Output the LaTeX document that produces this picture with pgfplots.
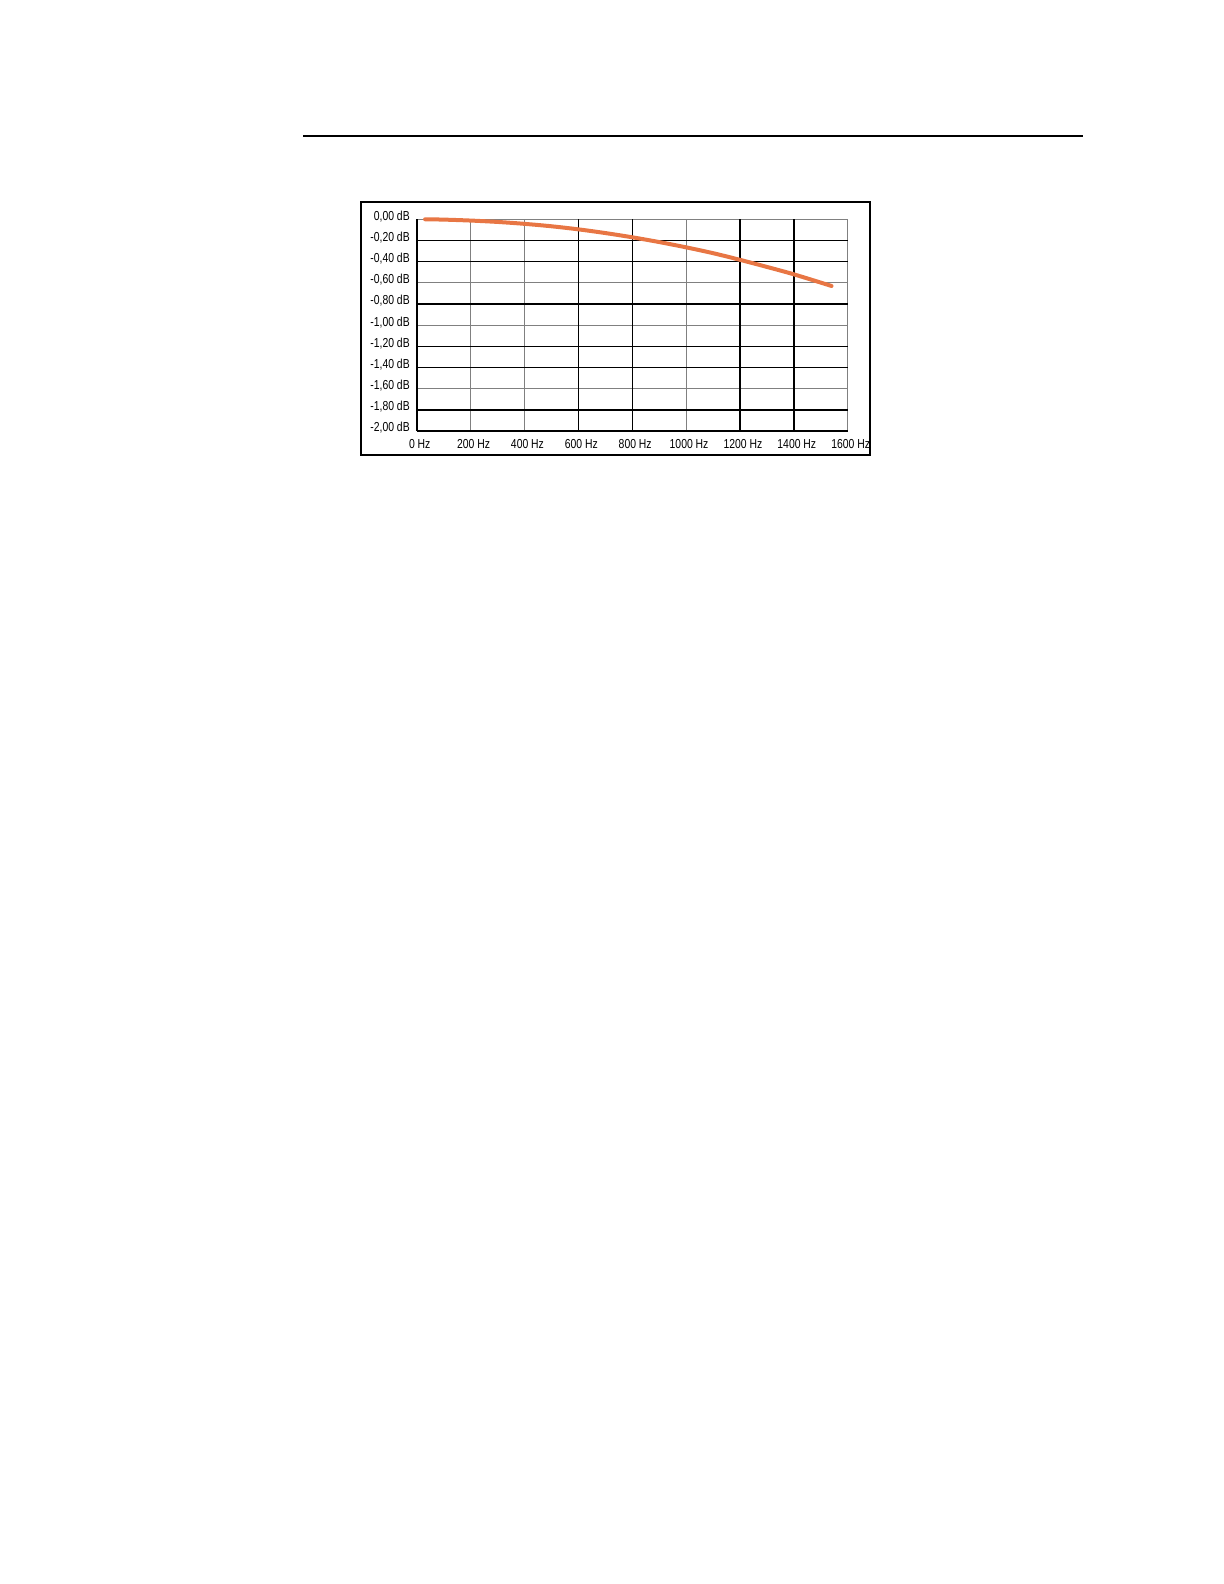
\documentclass[border=0pt]{standalone}
\usepackage{fontspec}
\setmainfont{Liberation Sans}[FakeStretch=0.8]
\usepackage{pgfplots}
\pgfplotsset{compat=1.18}
\definecolor{curve}{RGB}{232,118,68}
\definecolor{gridgray}{RGB}{128,128,128}
\begin{document}
\begin{tikzpicture}[x=0.5pt,y=0.5pt]
\path[use as bounding box] (0,0) rectangle (1224,1584);
\draw[line width=1pt] (303,1448.3) -- (1083,1448.3);
\draw[line width=1.35pt] (361,1382) rectangle (870,1129);
\begin{axis}[
  at={(208.35pt,576.5pt)}, anchor=south west,
  scale only axis, width=215.5pt, height=105.85pt,
  xmin=0, xmax=1600, ymin=-2, ymax=0,
  axis x line=bottom, axis y line=left,
  axis line style={line width=0.9pt, black, -},
  xtick={0,200,...,1600},
  xticklabels={0 Hz,200 Hz,400 Hz,600 Hz,800 Hz,1000 Hz,1200 Hz,1400 Hz,1600 Hz},
  ytick={-2,-1.8,...,0.01},
  yticklabels={{-2,00 dB},{-1,80 dB},{-1,60 dB},{-1,40 dB},{-1,20 dB},{-1,00 dB},{-0,80 dB},{-0,60 dB},{-0,40 dB},{-0,20 dB},{0,00 dB}},
  major tick length=0pt,
  grid=major,
  major grid style={gridgray, line width=0.55pt},
  xticklabel style={font=\fontsize{6.5}{7.5}\selectfont, anchor=north, inner sep=0pt, yshift=-4pt, xshift=1.5pt},
  yticklabel style={font=\fontsize{6.5}{7.5}\selectfont, anchor=east, inner sep=0pt, xshift=-3.3pt, yshift=1.5pt},
  clip=false,
]
\draw[black, line width=0.7pt] (axis cs:600,-2) -- (axis cs:600,0);
\draw[black, line width=0.7pt] (axis cs:800,-2) -- (axis cs:800,0);
\draw[black, line width=0.7pt] (axis cs:1200,-2) -- (axis cs:1200,0);
\draw[black, line width=0.7pt] (axis cs:1400,-2) -- (axis cs:1400,0);
\draw[black, line width=0.7pt] (axis cs:0,-0.2) -- (axis cs:1600,-0.2);
\draw[black, line width=0.7pt] (axis cs:0,-0.4) -- (axis cs:1600,-0.4);
\draw[black, line width=0.7pt] (axis cs:0,-0.8) -- (axis cs:1600,-0.8);
\draw[black, line width=0.7pt] (axis cs:0,-1.2) -- (axis cs:1600,-1.2);
\draw[black, line width=0.7pt] (axis cs:0,-1.4) -- (axis cs:1600,-1.4);
\draw[black, line width=0.7pt] (axis cs:0,-1.8) -- (axis cs:1600,-1.8);
\addplot[curve, line width=2pt, smooth, line cap=round] coordinates {
(31,0) (100,-0.003) (200,-0.012) (300,-0.025) (400,-0.043) (500,-0.066)
(600,-0.095) (700,-0.13) (800,-0.17) (900,-0.215) (1000,-0.265)
(1100,-0.32) (1200,-0.383) (1300,-0.45) (1400,-0.52) (1540,-0.63)
};
\end{axis}
\end{tikzpicture}
\end{document}
